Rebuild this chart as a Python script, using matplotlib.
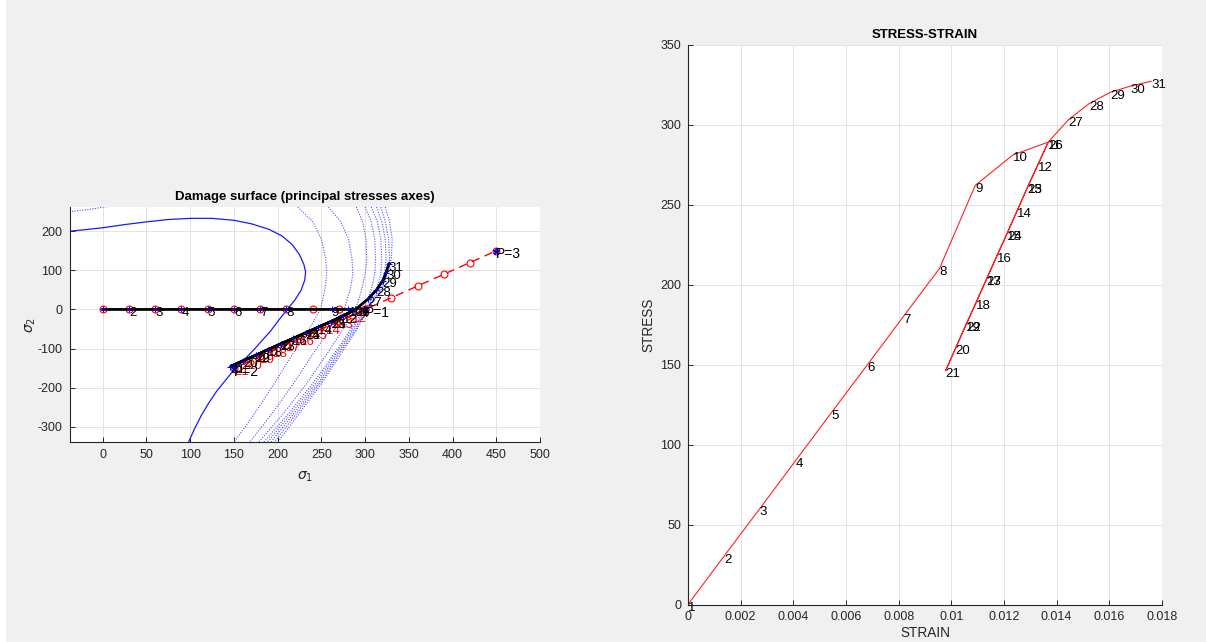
import matplotlib
matplotlib.use("Agg")
import matplotlib.pyplot as plt
from matplotlib.patches import Rectangle

plt.rcParams['font.family'] = ['Liberation Sans', 'DejaVu Sans']
plt.rcParams['mathtext.fontset'] = 'dejavusans'
plt.rcParams['axes.unicode_minus'] = False

# imposed load path in principal stresses: P0 -> P1 -> P2 -> P3 (31 steps)
LOAD_S1 = [0, 30, 60, 90, 120, 150, 180, 210, 240, 270, 300,
           285, 270, 255, 240, 225, 210, 195, 180, 165, 150,
           180, 210, 240, 270, 300, 330, 360, 390, 420, 450]
LOAD_S2 = [0, 0, 0, 0, 0, 0, 0, 0, 0, 0, 0,
           -15, -30, -45, -60, -75, -90, -105, -120, -135, -150,
           -120, -90, -60, -30, 0, 30, 60, 90, 120, 150]
P_LABELS = ['P=1', 'P=2', 'P=3']
P_S1 = [300, 150, 450]
P_S2 = [0, -150, 150]

# computed stress path
PATH_S1 = [0, 30, 60, 90, 120, 150, 180, 210, 262, 281, 289,
           275, 261, 246.5, 232, 218, 203.5, 189, 175, 160.5, 146,
           175, 203.5, 232, 261, 289, 303, 313, 320, 324, 327]
PATH_S2 = [0, 0, 0, 0, 0, 0, 0, 0, 0, 0, 0,
           -17, -31, -45, -60, -74, -88, -103, -117, -131, -146,
           -117, -88, -60, -31, 0, 26, 50, 73, 94, 116]

# uniaxial stress-strain response
STRAIN = [0, 0.00136, 0.00273, 0.00409, 0.00545, 0.00682, 0.00818, 0.00955,
          0.01091, 0.01234, 0.01368,
          0.01329, 0.01290, 0.01251, 0.01212, 0.01173, 0.01134, 0.01095,
          0.01056, 0.01017, 0.00978,
          0.01056, 0.01134, 0.01212, 0.01290, 0.01368,
          0.01445, 0.01523, 0.01602, 0.01680, 0.01759]
STRESS = PATH_S1

# initial damage surface
BASE_S1 = [-38, -20, 0, 25, 50, 75, 100, 125, 150, 170, 190, 205, 217, 225,
           230, 232, 231, 227, 220, 211, 201, 192, 182, 172, 161, 150, 140,
           130, 121, 113, 105, 98]
BASE_S2 = [200, 204, 209, 217, 224, 230, 233, 233, 228, 219, 205, 188, 165,
           140, 115, 96, 75, 50, 25, 0, -28, -55, -80, -105, -130, -155, -182,
           -210, -240, -270, -305, -340]

# updated damage surfaces, sampled at common sigma_2 levels
SURF_S2 = [262, 225, 180, 130, 90, 50, 0, -50, -115, -190, -265, -340]
SURF_S1 = [
    [223, 240, 250, 255, 256, 254, 249, 236, 217, 196, 174, 150],
    [258, 272, 281, 285, 286, 283, 276, 260, 240, 218, 194, 168],
    [290, 297, 301, 302, 300, 296, 289, 275, 256, 233, 207, 178],
    [300, 307, 311, 312, 311, 307, 298, 284, 264, 240, 213, 184],
    [307, 314, 318, 319, 318, 313, 300, 286, 266, 243, 216, 188],
    [313, 319, 323, 324, 322, 316, 301, 288, 268, 246, 219, 192],
    [318, 323, 327, 328, 324, 318, 302, 290, 270, 248, 222, 196],
    [323, 328, 331, 330, 325, 319, 303, 291, 272, 250, 225, 200],
]
TOPLEFT_S1 = [-38, -15, 8]
TOPLEFT_S2 = [250, 256, 264]

FIG_BG = '#f0f0f0'
AX_FG = '#262626'
DOTS = (0, (1, 1.3))


def style_axes(ax):
    ax.set_facecolor('white')
    for side in ('top', 'right'):
        ax.spines[side].set_visible(False)
    for side in ('left', 'bottom'):
        ax.spines[side].set_color(AX_FG)
        ax.spines[side].set_linewidth(0.8)
    ax.tick_params(direction='in', length=3.5, width=0.7, colors=AX_FG,
                   labelsize=9, pad=5)
    ax.grid(True, color='#e3e3e3', linewidth=0.7)
    ax.set_axisbelow(True)


def label_point(ax, x, y, txt, color='black', size=9.5):
    ax.annotate(txt, (x, y), xytext=(0, -2.5), textcoords='offset points',
                ha='left', va='center', fontsize=size, color=color)


fig = plt.figure(figsize=(12.06, 6.42), dpi=100, facecolor='white')
fig.patches.append(Rectangle((6 / 1206, 0), 1, 1, transform=fig.transFigure,
                             facecolor=FIG_BG, edgecolor='none', zorder=-10))

# ---- damage surface in principal stress plane
ax1 = fig.add_axes([69.5 / 1206, 1 - 442 / 642, 470.5 / 1206, 235 / 642])
style_axes(ax1)
ax1.plot(BASE_S1, BASE_S2, color='#1a1aff', lw=0.9)
for s1 in SURF_S1:
    ax1.plot(s1, SURF_S2, color='#3333ff', lw=0.8, ls=DOTS, alpha=0.85)
ax1.plot(TOPLEFT_S1, TOPLEFT_S2, color='#3333ff', lw=0.8, ls=DOTS, alpha=0.85)

ax1.plot(LOAD_S1, LOAD_S2, color='red', lw=1.0, ls=(0, (6, 4)),
         marker='o', ms=5, mfc='none', mec='red', mew=0.8)
ax1.plot(PATH_S1, PATH_S2, color='black', lw=2.0)
ax1.plot(PATH_S1, PATH_S2, ls='none', marker='+', ms=4, mec='blue', mew=0.7)
ax1.plot(P_S1, P_S2, ls='none', marker='*', ms=5, mec='blue', mfc='blue')

for i in range(11, 21):
    label_point(ax1, LOAD_S1[i], LOAD_S2[i], str(i + 1), color='red')
for i in range(1, len(PATH_S1)):
    label_point(ax1, PATH_S1[i], PATH_S2[i], str(i + 1))
for txt, x, y in zip(P_LABELS, P_S1, P_S2):
    label_point(ax1, x, y, txt, size=10)

ax1.set_xlim(-38, 500)
ax1.set_ylim(-339, 262)
ax1.set_xticks(range(0, 501, 50))
ax1.set_yticks(range(-300, 201, 100))
ax1.set_xlabel(r'$\sigma_1$', fontsize=10, color=AX_FG, labelpad=6)
ax1.set_ylabel(r'$\sigma_2$', fontsize=10, color=AX_FG, labelpad=0)
ax1.set_title('Damage surface (principal stresses axes)', fontsize=9.5,
              fontweight='bold', pad=5)

# ---- stress-strain curve
ax2 = fig.add_axes([688 / 1206, 1 - 604.5 / 642, 474 / 1206, 560 / 642])
style_axes(ax2)
ax2.plot(STRAIN, STRESS, color='#ff2020', lw=0.8)
for i in range(len(STRAIN)):
    label_point(ax2, STRAIN[i], STRESS[i], str(i + 1))
ax2.set_xlim(0, 0.018)
ax2.set_ylim(0, 350)
ax2.set_xticks([0, 0.002, 0.004, 0.006, 0.008, 0.01, 0.012, 0.014, 0.016, 0.018])
ax2.set_xticklabels(['0', '0.002', '0.004', '0.006', '0.008', '0.01', '0.012',
                     '0.014', '0.016', '0.018'])
ax2.set_yticks(range(0, 351, 50))
ax2.set_xlabel('STRAIN', fontsize=9.8, color=AX_FG, labelpad=2)
ax2.set_ylabel('STRESS', fontsize=9.8, color=AX_FG, labelpad=3)
ax2.set_title('STRESS-STRAIN', fontsize=9.5, fontweight='bold', pad=5)

fig.savefig('out.png', dpi=100, facecolor=fig.get_facecolor())
